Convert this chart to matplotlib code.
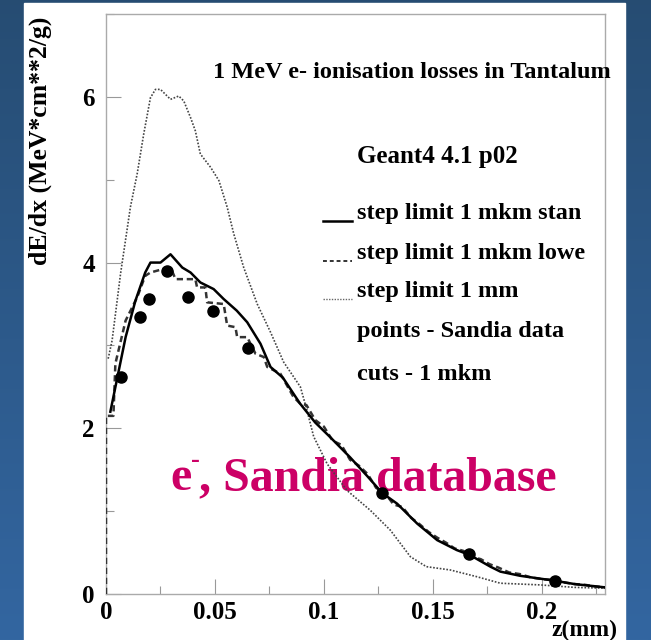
#!/usr/bin/env python3
"""dE/dx of 1 MeV electrons in tantalum: Geant4 step limits vs Sandia data."""
import numpy as np
import matplotlib
matplotlib.use('Agg')
import matplotlib.pyplot as plt
from matplotlib.ticker import MultipleLocator

plt.rcParams['font.family'] = ['Liberation Serif', 'DejaVu Serif']
plt.rcParams['font.weight'] = 'bold'

# step limit 1 mkm, standard ionisation
stan_x = [0.002, 0.009, 0.0135, 0.018, 0.0204, 0.025, 0.0296, 0.035, 0.0388, 0.0433,
          0.0494, 0.054, 0.060, 0.0648, 0.0709, 0.0755, 0.0812, 0.089, 0.096, 0.103,
          0.112, 0.120, 0.1267, 0.1336, 0.1428, 0.152, 0.161, 0.167, 0.1764, 0.181,
          0.190, 0.198, 0.206, 0.215, 0.222, 0.229]
stan_y = [2.20, 3.10, 3.54, 3.88, 4.00, 4.00, 4.10, 3.94, 3.88, 3.76,
          3.68, 3.56, 3.42, 3.28, 3.02, 2.74, 2.61, 2.30, 2.07, 1.89,
          1.65, 1.42, 1.22, 1.09, 0.85, 0.65, 0.53, 0.47, 0.33, 0.27,
          0.22, 0.19, 0.16, 0.12, 0.10, 0.08]

# step limit 1 mkm, low energy ionisation
lowe_x = [0.0, 0.0, 0.0034, 0.0043, 0.009, 0.0143, 0.018, 0.0204, 0.0273, 0.0303,
          0.0319, 0.041, 0.0418, 0.0456, 0.0464, 0.054, 0.0556, 0.0594, 0.0602, 0.0648,
          0.0686, 0.0724, 0.074, 0.080, 0.086, 0.089, 0.092, 0.096, 0.100, 0.104,
          0.108, 0.112, 0.116, 0.120, 0.124, 0.128, 0.132, 0.136, 0.140, 0.144,
          0.148, 0.152, 0.156, 0.160, 0.164, 0.168, 0.172, 0.176, 0.180, 0.185,
          0.190, 0.195, 0.200, 0.205, 0.210, 0.215, 0.220, 0.225, 0.229]
lowe_y = [0.0, 2.15, 2.15, 2.78, 3.30, 3.58, 3.84, 3.88, 3.93, 3.90,
          3.80, 3.80, 3.70, 3.70, 3.52, 3.50, 3.24, 3.22, 3.10, 3.10,
          2.90, 2.86, 2.74, 2.66, 2.38, 2.30, 2.28, 2.10, 2.02, 1.85,
          1.80, 1.62, 1.55, 1.45, 1.28, 1.22, 1.08, 1.05, 0.92, 0.84,
          0.75, 0.68, 0.62, 0.55, 0.52, 0.45, 0.42, 0.36, 0.32, 0.26,
          0.24, 0.20, 0.18, 0.17, 0.14, 0.12, 0.11, 0.09, 0.08]

# step limit 1 mm
mm_x = [0.001, 0.0028, 0.0067, 0.0112, 0.0143, 0.0173, 0.0204, 0.0227, 0.025, 0.0296,
        0.0334, 0.0357, 0.0388, 0.041, 0.0433, 0.048, 0.0518, 0.0556, 0.0586, 0.0632,
        0.0694, 0.0755, 0.0815, 0.0892, 0.0922, 0.0953, 0.1015, 0.1106, 0.1213, 0.1305,
        0.1397, 0.147, 0.158, 0.170, 0.181, 0.199, 0.215, 0.229]
mm_y = [2.84, 3.06, 3.87, 4.67, 5.07, 5.55, 5.99, 6.09, 6.09, 5.97,
        6.01, 5.95, 5.75, 5.59, 5.31, 5.15, 4.99, 4.67, 4.35, 3.94,
        3.50, 3.16, 2.80, 2.50, 2.22, 1.90, 1.57, 1.25, 1.01, 0.77,
        0.45, 0.33, 0.29, 0.21, 0.13, 0.11, 0.08, 0.07]

# Sandia data points
sandia_x = [0.0067, 0.0158, 0.0197, 0.0278, 0.0375, 0.0492, 0.065, 0.1267, 0.1664, 0.2062]
sandia_y = [2.62, 3.34, 3.56, 3.90, 3.59, 3.42, 2.97, 1.22, 0.48, 0.16]

legend_labels = ['step limit 1 mkm stan', 'step limit 1 mkm lowe', 'step limit 1 mm',
                 'points - Sandia data', 'cuts - 1 mkm']

fig = plt.figure(figsize=(6.51, 6.40), dpi=100)

# blue slide background with white panel
bg = fig.add_axes([0, 0, 1, 1])
grad = np.linspace(0, 1, 256).reshape(-1, 1)
top_col = np.array([0.15, 0.30, 0.45])
bot_col = np.array([0.20, 0.40, 0.63])
img = top_col + grad[..., None] * (bot_col - top_col)
bg.imshow(img, aspect='auto', extent=[0, 1, 0, 1], origin='upper')
bg.add_patch(plt.Rectangle((24 / 651, 0), (625 - 24) / 651, 1 - 3 / 640, color='white'))
bg.set_xlim(0, 1)
bg.set_ylim(0, 1)
bg.axis('off')

ax = fig.add_axes([106 / 651, 1 - 594 / 640, (605 - 106) / 651, (594 - 14) / 640])
ax.plot(mm_x, mm_y, color='#444444', lw=1.2, ls=(0, (1, 1)), zorder=3)
ax.plot(lowe_x, lowe_y, color='#333333', lw=1.8, ls=(0, (2.5, 1.5)), zorder=3)
ax.plot(stan_x, stan_y, color='black', lw=1.8, zorder=3)
ax.plot(sandia_x, sandia_y, 'o', color='black', ms=8, zorder=4)

ax.set_xlim(0, 0.229)
ax.set_ylim(0, 7)
ax.xaxis.set_major_locator(MultipleLocator(0.05))
ax.xaxis.set_minor_locator(MultipleLocator(0.025))
ax.yaxis.set_major_locator(MultipleLocator(2))
ax.yaxis.set_minor_locator(MultipleLocator(1))
ax.xaxis.set_major_formatter(plt.FuncFormatter(lambda v, p: f'{v:g}'))
ax.tick_params(which='both', direction='in', color='#999999', labelsize=18, top=False, right=False)
ax.tick_params(which='major', length=11, width=0.8)
ax.tick_params(which='minor', length=6, width=0.8)
ax.tick_params(axis='y', pad=8)
ax.tick_params(axis='x', pad=5)
for s in ax.spines.values():
    s.set_color('#aaaaaa')
    s.set_linewidth(1.0)

ax.set_ylabel('dE/dx (MeV*cm**2/g)', fontsize=18.5, fontweight='bold')
ax.yaxis.label.set_horizontalalignment('right')
ax.yaxis.set_label_coords((40 - 106) / 499, (594 - 17) / 580)
ax.yaxis.label.set_verticalalignment('center')
fig.text(617 / 651, 1 - 630 / 640, 'z(mm)', ha='right', va='center', fontsize=17, fontweight='bold')

fig.text(213 / 651, 1 - 72 / 640, '1 MeV e- ionisation losses in Tantalum',
         ha='left', va='center', fontsize=17.5, fontweight='bold')
fig.text(357 / 651, 1 - 156 / 640, 'Geant4 4.1 p02', ha='left', va='center',
         fontsize=18, fontweight='bold')

rows_y = [214, 254, 292, 332, 374]
styles = [dict(color='black', lw=1.8), dict(color='#333333', lw=1.4, ls=(0, (2, 1.5))),
          dict(color='#666666', lw=1.0, ls=(0, (1, 1)))]
for i, (lab, yy) in enumerate(zip(legend_labels, rows_y)):
    fy = 1 - yy / 640
    fig.text(357 / 651, fy, lab, ha='left', va='center', fontsize=17.5, fontweight='bold')
    if i < 3:
        ly = 1 - (yy + 7) / 640
        ax.plot([323 / 651, 352 / 651], [ly, ly], transform=fig.transFigure,
                clip_on=False, **styles[i])

# magenta label sits behind the curves
pink = '#cc0066'
t1 = ax.text(170 / 651, 1 - 478 / 640, 'e', transform=fig.transFigure, ha='left', va='center',
             fontsize=34.5, fontweight='bold', color=pink, zorder=1)
fig.canvas.draw()
r = fig.canvas.get_renderer()
e_right = t1.get_window_extent(r).x1 / fig.bbox.width
ax.text(e_right, 1 - 461 / 640, '-', transform=fig.transFigure, ha='left', va='center',
        fontsize=19, fontweight='bold', color=pink, zorder=1)
ax.text(e_right + 8 / 651, 1 - 478 / 640, ', Sandia database', transform=fig.transFigure,
        ha='left', va='center', fontsize=34.5, fontweight='bold', color=pink, zorder=1)

fig.savefig('out.png', dpi=100)
